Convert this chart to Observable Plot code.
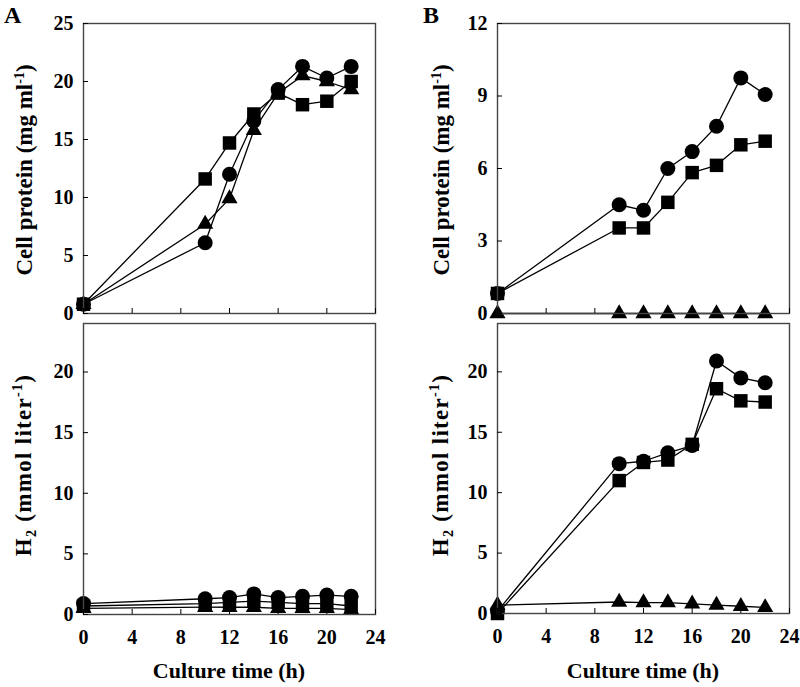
<!DOCTYPE html>
<html>
<head>
<meta charset="utf-8">
<script src="https://cdn.jsdelivr.net/npm/d3@7"></script>
<script src="https://cdn.jsdelivr.net/npm/@observablehq/plot@0.6"></script>
<style>
  html, body { margin: 0; padding: 0; background: #fff; }
  #wrap { position: relative; width: 800px; height: 687px; font-family: "Liberation Serif", "Times New Roman", serif; font-weight: bold; color: #000; overflow: hidden; }
  .panel { position: absolute; }
  .lbl { position: absolute; font-weight: bold; white-space: nowrap; }
  .ylab { position: absolute; font-size: 23px; font-weight: bold; white-space: nowrap; transform: translate(-50%, -50%) rotate(-90deg); }
  .ylab sup, .ylab sub { font-size: 14px; }
</style>
</head>
<body>
<div id="wrap"></div>
<script>
// ---- data ----
const times = [0, 10, 12, 14, 16, 18, 20, 22];
const xTicks = [0, 4, 8, 12, 16, 20, 24];

// Panel A, cell protein (mg/ml)
const aProteinCircle   = [0.8, 6.1, 12.0, 16.6, 19.3, 21.3, 20.3, 21.3];
const aProteinSquare   = [0.8, 11.6, 14.7, 17.2, 19.0, 18.0, 18.3, 20.0];
const aProteinTriangle = [0.8, 7.7, 9.9, 15.8, 19.0, 20.5, 20.0, 19.3];
// Panel A, H2 (mmol/liter)
const aH2Circle   = [0.9, 1.3, 1.4, 1.7, 1.4, 1.5, 1.6, 1.5];
const aH2Square   = [0.7, 0.9, 1.0, 1.1, 1.0, 0.9, 0.9, 0.7];
const aH2Triangle = [0.5, 0.6, 0.6, 0.6, 0.5, 0.5, 0.5, 0.4];
// Panel B, cell protein (mg/ml)
const bProteinCircle   = [0.83, 4.5, 4.27, 6.0, 6.7, 7.75, 9.75, 9.06];
const bProteinSquare   = [0.83, 3.54, 3.54, 4.6, 5.83, 6.13, 6.98, 7.13];
const bProteinTriangle = [0, 0, 0, 0, 0, 0, 0, 0];
// Panel B, H2 (mmol/liter)
const bH2Circle   = [0.2, 12.4, 12.6, 13.3, 13.9, 20.9, 19.5, 19.1];
const bH2Square   = [0.0, 11.0, 12.5, 12.7, 14.0, 18.6, 17.6, 17.5];
const bH2Triangle = [0.7, 0.95, 0.9, 0.9, 0.8, 0.7, 0.6, 0.5];

const proteinATicks = [0, 5, 10, 15, 20, 25];
const proteinBTicks = [0, 3, 6, 9, 12];
const h2Ticks = [0, 5, 10, 15, 20];

const wrap = document.getElementById("wrap");

function rows(vals) { return times.map((t, i) => ({t, v: vals[i]})); }

function panel({left, top, width, height, mLeft, mRight, mTop, mBottom, yDomain, yTicks, xLabels, series}) {
  const marks = [];
  for (const s of series) {
    marks.push(Plot.line(rows(s.vals), {x: "t", y: "v", stroke: "#000", strokeWidth: 1.3}));
  }
  for (const s of series) {
    marks.push(Plot.dot(rows(s.vals), {x: "t", y: "v", symbol: s.symbol, r: s.r, fill: "#000", stroke: "none"}));
  }
  marks.push(Plot.frame({stroke: "#444", strokeWidth: 1.4}));
  marks.push(Plot.axisY({ticks: yTicks, tickSize: -5, tickPadding: 15, label: null, fontSize: 20, tickFormat: d3.format("d")}));
  if (xLabels) {
    marks.push(Plot.axisX({ticks: xTicks, tickSize: -5, tickPadding: 20, label: null, fontSize: 20, tickFormat: d3.format("d")}));
  } else {
    marks.push(Plot.axisX({ticks: xTicks, tickSize: -5, fill: "none", label: null}));
  }
  const p = Plot.plot({
    width, height,
    marginLeft: mLeft, marginRight: mRight, marginTop: mTop, marginBottom: mBottom,
    x: {domain: [0, 24]},
    y: {domain: yDomain},
    style: {background: "transparent", overflow: "visible", fontFamily: "'Liberation Serif', 'Times New Roman', serif", fontWeight: "bold", color: "#000"},
    marks
  });
  p.classList.add("panel");
  p.style.left = left + "px";
  p.style.top = top + "px";
  wrap.appendChild(p);
}

const sym = (vals, symbol, r) => ({vals, symbol, r});

// A top
panel({left: 0, top: 0, width: 400, height: 318, mLeft: 83, mRight: 25, mTop: 23, mBottom: 5,
  yDomain: [0, 25], yTicks: proteinATicks, xLabels: false,
  series: [sym(aProteinSquare, "square", 7.6), sym(aProteinTriangle, "triangle", 6), sym(aProteinCircle, "circle", 7.5)]});
// A bottom
panel({left: 0, top: 318, width: 400, height: 369, mLeft: 83, mRight: 25, mTop: 5, mBottom: 73,
  yDomain: [0, 24], yTicks: h2Ticks, xLabels: true,
  series: [sym(aH2Triangle, "triangle", 6), sym(aH2Square, "square", 7.6), sym(aH2Circle, "circle", 7.5)]});
// B top
panel({left: 400, top: 0, width: 400, height: 318, mLeft: 97, mRight: 11, mTop: 23, mBottom: 5,
  yDomain: [0, 12], yTicks: proteinBTicks, xLabels: false,
  series: [sym(bProteinTriangle, "triangle", 6), sym(bProteinSquare, "square", 7.6), sym(bProteinCircle, "circle", 7.5)]});
// B bottom
panel({left: 400, top: 318, width: 400, height: 369, mLeft: 97, mRight: 11, mTop: 5, mBottom: 74,
  yDomain: [0, 24], yTicks: h2Ticks, xLabels: true,
  series: [sym(bH2Triangle, "triangle", 6), sym(bH2Square, "square", 7.6), sym(bH2Circle, "circle", 7.5)]});

function addText(html, cls, x, y, extra) {
  const d = document.createElement("div");
  d.className = cls;
  d.innerHTML = html;
  d.style.left = x + "px";
  d.style.top = y + "px";
  if (extra) Object.assign(d.style, extra);
  wrap.appendChild(d);
  return d;
}
addText("A", "lbl", 4, 2, {fontSize: "24px"});
addText("B", "lbl", 423, 2, {fontSize: "24px"});
addText("Cell protein (mg ml<sup>-1</sup>)", "ylab", 25, 170);
addText("H<sub>2</sub> (mmol liter<sup>-1</sup>)", "ylab", 25, 465, {letterSpacing: "1.3px"});
addText("Cell protein (mg ml<sup>-1</sup>)", "ylab", 442, 170);
addText("H<sub>2</sub> (mmol liter<sup>-1</sup>)", "ylab", 442, 465, {letterSpacing: "1.3px"});
addText("Culture time (h)", "lbl", 229, 658, {fontSize: "22px", transform: "translateX(-50%)"});
addText("Culture time (h)", "lbl", 643, 658, {fontSize: "22px", transform: "translateX(-50%)"});
</script>
</body>
</html>
